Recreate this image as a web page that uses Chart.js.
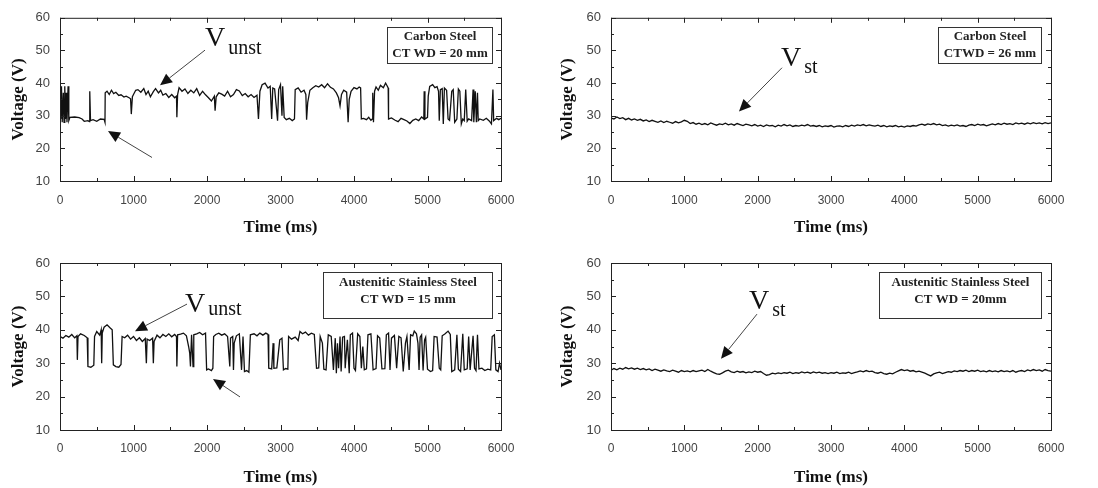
<!DOCTYPE html>
<html>
<head>
<meta charset="utf-8">
<title>Arc voltage traces</title>
<script src="https://cdn.jsdelivr.net/npm/chart.js@4/dist/chart.umd.min.js"></script>
<style>
  html, body { margin: 0; padding: 0; background: #fff; }
  #wrap  { position: relative; width: 1098px; height: 488px; }
  .panel { position: absolute; width: 549px; height: 244px; }
</style>
</head>
<body>
<div id="wrap">
  <div class="panel" style="left:0;top:0"><canvas id="c-tl" width="549" height="244"></canvas></div>
  <div class="panel" style="left:549px;top:0"><canvas id="c-tr" width="549" height="244"></canvas></div>
  <div class="panel" style="left:0;top:244px"><canvas id="c-bl" width="549" height="244"></canvas></div>
  <div class="panel" style="left:549px;top:244px"><canvas id="c-br" width="549" height="244"></canvas></div>
</div>
<script>
/* ── Data ─────────────────────────────────────────────────────────────── */
const xTicks = [0, 1000, 2000, 3000, 4000, 5000, 6000];
const yTicks = [10, 20, 30, 40, 50, 60];

// Carbon steel, CTWD 20 mm  [time ms, voltage V]
const carbon20 = [
  [0,38],[10,29],[20,39],[30,28],[45,37],[55,28],[65,39],[75,29],[85,37],[95,28],
  [110,39],[120,28.5],[135,29.5],[200,29.6],[260,29.4],[300,29],[330,28.3],[380,28.5],
  [400,28.2],[405,37.5],[415,28.5],[450,28.8],[500,28.3],[550,29],[600,28.9],[612,28],
  [615,37],[640,37.5],[670,36.5],[700,37.8],[730,36.8],[760,37.2],[800,36.2],[830,36.4],
  [870,35.7],[900,36],[940,35.5],[960,35.2],[970,30.5],[985,35.8],[1000,36.5],[1030,37.8],
  [1060,38],[1100,37.2],[1140,38.3],[1170,36.5],[1200,37.5],[1230,35.8],[1270,37.4],
  [1300,38.3],[1340,37],[1370,37.8],[1400,36.3],[1440,36.8],[1480,35.6],[1520,36.5],
  [1560,35.5],[1585,36],[1590,29.5],[1600,36.5],[1620,38.6],[1660,37.5],[1700,38.2],
  [1740,36.8],[1780,37.8],[1820,37],[1860,38.3],[1900,36.2],[1940,37.5],[1980,36.4],
  [2020,35.5],[2060,34.5],[2100,36],[2110,31.5],[2125,35.8],[2160,37],[2200,36.6],
  [2240,36],[2280,37.5],[2320,35.8],[2360,36.5],[2400,38],[2440,37.6],[2480,36.2],
  [2520,36.8],[2560,35.8],[2600,36.5],[2640,35.6],[2680,36.3],[2700,29],[2720,37.5],
  [2750,39.5],[2790,40],[2830,38.5],[2860,39],[2880,29],[2895,38.5],[2920,38.2],
  [2960,28.5],[2975,38],[3000,39.5],[3020,30],[3030,39],[3050,29.5],[3080,28.8],
  [3120,29.2],[3160,28.5],[3190,29],[3200,38],[3240,38.5],[3280,37.2],[3320,37.8],
  [3345,36.5],[3355,28.8],[3370,34],[3400,37.8],[3440,38.6],[3480,39.2],[3520,38.8],
  [3560,39.5],[3600,38.6],[3640,39.8],[3680,38.7],[3720,38.2],[3760,37],[3790,35.5],
  [3810,33],[3830,36.5],[3860,37.8],[3900,37.2],[3920,28],[3935,35],[3960,37.5],
  [4000,38.6],[4040,38.2],[4070,38.8],[4090,38.5],[4100,29],[4130,29.2],[4170,28.8],
  [4200,29.5],[4230,28.6],[4250,29],[4255,37],[4265,28],[4280,37.5],[4300,38.8],
  [4330,37.8],[4360,39.3],[4400,38.6],[4430,40],[4450,39.2],[4465,38.5],[4470,29],
  [4510,29.3],[4560,28.6],[4600,28.2],[4640,29.2],[4680,28.8],[4720,28.4],[4760,27.6],
  [4800,28.6],[4840,29],[4880,28.5],[4920,29.6],[4950,29],[4955,37.5],[4965,29],
  [5000,29.5],[5010,36],[5030,39],[5070,39.5],[5100,38.6],[5130,38.9],[5150,37.5],
  [5160,28.5],[5175,38],[5200,38.3],[5215,27.5],[5230,38.5],[5260,37.8],[5280,29],
  [5300,28.6],[5330,37.5],[5350,38],[5370,28],[5400,29],[5420,38.2],[5440,37.5],
  [5460,27.5],[5480,29],[5500,28.5],[5520,38],[5540,28.3],[5560,29],[5600,28.5],
  [5620,38],[5630,28],[5650,37.5],[5665,28],[5680,37],[5690,28.5],[5710,29],[5760,28.6],
  [5800,29.2],[5840,28.4],[5870,27.5],[5890,38],[5900,28.5],[5940,29.2],[5970,28.8],[6000,29.2]
];

// Austenitic stainless steel, CTWD 15 mm  [time ms, voltage V]
const stainless15 = [
  [0,38],[40,37.5],[80,38.3],[120,37.8],[160,38.6],[200,37.6],[230,38.2],[236,31],
  [245,38],[280,38.8],[330,38.3],[370,37.6],[380,29],[420,28.8],[460,29.4],[470,38],
  [500,39.5],[540,38.4],[560,40],[567,30],[575,39],[600,40.8],[640,41.5],[680,40.6],
  [710,40],[726,29.5],[760,29],[800,28.8],[830,29.6],[845,38],[880,37.6],[920,38.4],
  [960,37.2],[1000,38],[1040,36.8],[1080,37.6],[1120,36.5],[1160,37.4],[1175,30],
  [1185,37.2],[1220,36.8],[1260,37.5],[1270,30],[1280,36.5],[1320,38.4],[1360,37.6],
  [1400,38.6],[1440,38],[1480,38.8],[1520,37.9],[1560,38.6],[1585,38],[1590,29],
  [1600,38.5],[1640,38.7],[1680,39],[1720,38.2],[1750,35],[1765,33],[1775,29],[1790,38.5],
  [1810,29],[1820,38.5],[1860,38.8],[1900,39.2],[1940,38.5],[1980,39],[1995,28],
  [2020,28.3],[2060,27.8],[2080,28.5],[2090,38],[2120,38.6],[2160,39],[2200,38.4],
  [2240,38.8],[2280,38],[2310,29],[2320,37.5],[2350,38],[2360,28],[2370,36],[2400,38.2],
  [2440,38.8],[2470,28],[2490,38],[2510,27.5],[2540,27.8],[2570,27.3],[2590,38.5],
  [2640,38.8],[2680,38.2],[2720,39],[2760,38.4],[2800,39],[2830,38.6],[2840,28.5],
  [2880,28.3],[2900,36],[2910,28.5],[2950,28.6],[2990,37],[3020,37.5],[3040,28],
  [3070,28.4],[3100,28.2],[3110,38],[3150,37.2],[3200,37.8],[3240,36.8],[3265,39.5],
  [3300,38.8],[3340,39.3],[3380,38.4],[3420,39],[3460,38.6],[3490,28.5],[3520,28.6],
  [3540,38],[3570,36],[3590,28.2],[3620,28],[3650,38.5],[3690,38],[3720,28],[3745,37.5],
  [3760,27],[3775,36],[3790,28.5],[3810,38],[3825,27.5],[3845,37.8],[3870,38],[3880,28.5],
  [3910,37],[3935,27],[3950,38.5],[3980,39],[4000,28.5],[4020,27.8],[4050,38.8],[4080,38],
  [4100,28.5],[4120,35],[4140,28],[4170,28.3],[4190,38.5],[4230,38.8],[4260,28],
  [4300,28.4],[4320,38.2],[4350,37.5],[4380,28.3],[4420,28.4],[4440,38.5],[4470,39],
  [4490,28],[4510,37.5],[4550,38.3],[4580,28.5],[4610,38],[4640,37.6],[4670,27.5],
  [4700,36],[4720,38],[4750,28],[4770,38.5],[4800,38.2],[4820,39.6],[4850,38.8],
  [4870,36],[4885,28],[4900,37.8],[4920,38.5],[4940,27.8],[4960,37],[4975,37.8],
  [5000,28.2],[5040,27.5],[5070,27.8],[5090,38],[5130,37.8],[5160,28.5],[5180,28],
  [5200,38.2],[5240,38.8],[5280,39.6],[5310,38.6],[5330,27.5],[5370,28],[5400,38.5],
  [5420,28.2],[5450,27.5],[5480,38.8],[5500,28],[5540,28.3],[5560,38],[5580,28],
  [5620,38.2],[5640,28.5],[5660,27.8],[5680,38.5],[5700,28.3],[5740,28.5],[5780,27.8],
  [5820,28.2],[5860,28],[5880,38],[5910,38.5],[5930,28],[5960,27.5],[5980,30],[6000,28]
];

// stable traces share one time base (ms)
const stableTime = [
  0,40,80,120,160,200,240,280,320,360,
  400,440,480,520,560,600,640,680,720,760,
  800,840,880,920,960,1000,1040,1080,1120,1160,
  1200,1240,1280,1320,1360,1400,1440,1480,1520,1560,
  1600,1640,1680,1720,1760,1800,1840,1880,1920,1960,
  2000,2040,2080,2120,2160,2200,2240,2280,2320,2360,
  2400,2440,2480,2520,2560,2600,2640,2680,2720,2760,
  2800,2840,2880,2920,2960,3000,3040,3080,3120,3160,
  3200,3240,3280,3320,3360,3400,3440,3480,3520,3560,
  3600,3640,3680,3720,3760,3800,3840,3880,3920,3960,
  4000,4040,4080,4120,4160,4200,4240,4280,4320,4360,
  4400,4440,4480,4520,4560,4600,4640,4680,4720,4760,
  4800,4840,4880,4920,4960,5000,5040,5080,5120,5160,
  5200,5240,5280,5320,5360,5400,5440,5480,5520,5560,
  5600,5640,5680,5720,5760,5800,5840,5880,5920,5960,
  6000
];
// Carbon steel, CTWD 26 mm (V)
const carbon26 = [
  29.3,29.0,29.6,29.1,29.4,28.8,29.2,28.7,29.0,28.6,
  28.9,28.4,28.7,28.2,28.6,28.3,28.0,28.4,27.9,28.3,
  28.0,27.7,28.2,27.8,28.1,28.6,28.3,27.6,27.9,27.4,
  27.7,27.3,27.6,27.2,27.8,27.4,27.1,27.5,27.3,27.7,
  27.2,27.5,27.1,27.6,27.3,27.0,27.4,27.2,26.9,27.3,
  26.8,27.1,26.7,27.2,26.9,27.0,26.6,27.1,26.8,27.3,
  26.9,27.2,26.7,27.0,26.8,27.1,26.9,27.3,26.8,27.0,
  26.7,27.0,26.6,26.9,26.7,27.0,26.5,26.8,26.9,26.6,
  27.0,26.7,27.1,26.8,27.2,27.0,27.3,26.9,27.2,27.0,
  26.8,27.1,26.7,27.0,26.6,26.9,26.7,27.0,26.6,26.8,
  26.5,26.9,26.7,27.0,26.8,27.2,27.4,27.1,27.5,27.3,
  27.6,27.2,27.4,27.0,27.2,26.8,27.1,26.9,27.2,26.8,
  27.0,26.7,27.1,27.3,27.0,27.4,27.1,27.3,26.9,27.2,
  27.5,27.2,27.6,27.3,27.7,27.4,27.6,27.3,27.8,27.5,
  27.7,27.4,27.8,27.5,27.9,27.6,27.8,27.5,27.9,27.6,
  27.8
];
// Austenitic stainless steel, CTWD 20 mm (V)
const stainless20 = [
  27.9,28.4,28.0,28.5,28.2,28.7,28.3,28.6,28.2,28.5,
  28.1,28.4,28.0,28.3,27.8,28.2,27.9,27.6,28.0,27.7,
  27.5,27.9,27.6,27.3,27.8,27.5,27.7,27.4,27.8,27.5,
  27.7,27.9,27.5,28.1,27.6,27.2,26.8,26.7,27.1,27.6,
  27.9,27.4,27.2,27.6,27.3,27.5,27.1,27.4,27.2,27.6,
  27.3,27.5,26.9,26.4,26.6,27.0,26.8,27.1,26.9,27.2,
  27.0,27.3,26.9,27.2,27.0,27.4,27.1,27.3,27.0,27.4,
  27.1,27.3,27.0,27.2,26.9,27.2,27.0,27.3,26.9,27.1,
  27.0,27.3,26.9,27.2,27.4,27.7,27.4,27.8,27.5,27.6,
  27.2,27.0,27.3,26.9,26.7,27.0,26.8,27.3,27.7,28.1,
  27.8,28.0,27.6,27.8,27.4,27.6,27.3,27.0,26.6,26.2,
  26.8,27.1,27.3,26.9,27.2,27.5,27.3,27.7,27.5,27.8,
  27.6,27.9,27.5,27.8,27.6,27.9,27.5,27.7,27.4,27.8,
  27.5,27.7,27.4,27.8,27.5,27.7,27.4,27.8,27.3,27.6,
  27.8,27.5,28.0,27.7,28.1,27.8,28.0,27.6,28.1,27.8,
  27.6
];

/* ── Plugins ──────────────────────────────────────────────────────────── */
// Boxed frame with inward ticks on all four sides
const framePlugin = {
  id: 'frame',
  afterDatasetsDraw(chart) {
    const { ctx, chartArea: a, scales: { x, y } } = chart;
    ctx.save();
    ctx.strokeStyle = '#222';
    ctx.lineWidth = 1;
    ctx.strokeRect(a.left + 0.5, a.top + 0.5, a.right - a.left, a.bottom - a.top);
    ctx.beginPath();
    for (let t = 0; t <= 6000; t += 500) {
      const px = Math.round(x.getPixelForValue(t)) + 0.5;
      const len = t % 1000 === 0 ? 5 : 3;
      ctx.moveTo(px, a.bottom); ctx.lineTo(px, a.bottom - len);
      ctx.moveTo(px, a.top);    ctx.lineTo(px, a.top + len);
    }
    for (let v = 10; v <= 60; v += 5) {
      const py = Math.round(y.getPixelForValue(v)) + 0.5;
      const len = v % 10 === 0 ? 5 : 3;
      ctx.moveTo(a.left, py);  ctx.lineTo(a.left + len, py);
      ctx.moveTo(a.right, py); ctx.lineTo(a.right - len, py);
    }
    ctx.stroke();
    ctx.restore();
  }
};

function drawArrow(ctx, x0, y0, x1, y1) {
  const ang = Math.atan2(y1 - y0, x1 - x0);
  const L = 12, W = 5.5;
  const bx = x1 - L * Math.cos(ang), by = y1 - L * Math.sin(ang);
  ctx.beginPath(); ctx.moveTo(x0, y0); ctx.lineTo(bx, by); ctx.stroke();
  ctx.beginPath();
  ctx.moveTo(x1, y1);
  ctx.lineTo(bx + W * Math.sin(ang), by - W * Math.cos(ang));
  ctx.lineTo(bx - W * Math.sin(ang), by + W * Math.cos(ang));
  ctx.closePath(); ctx.fill();
}

// Material box, V label and arrows (placed in data units)
const notesPlugin = {
  id: 'notes',
  afterDraw(chart, args, o) {
    const { ctx, scales: { x, y } } = chart;
    const X = t => x.getPixelForValue(t), Y = v => y.getPixelForValue(v);
    ctx.save();

    // box
    const bx0 = Math.round(X(o.box[0])) + 0.5, bx1 = Math.round(X(o.box[1])) + 0.5;
    const by0 = Math.round(Y(o.box[2])) + 0.5, by1 = Math.round(Y(o.box[3])) + 0.5;
    ctx.fillStyle = '#fff';
    ctx.fillRect(bx0, by0, bx1 - bx0, by1 - by0);
    ctx.strokeStyle = '#333';
    ctx.lineWidth = 1;
    ctx.strokeRect(bx0, by0, bx1 - bx0, by1 - by0);
    ctx.fillStyle = '#222';
    ctx.font = 'bold 13px "Liberation Serif"';
    ctx.textAlign = 'center';
    ctx.textBaseline = 'middle';
    const cx = (bx0 + bx1) / 2;
    ctx.fillText(o.lines[0], cx, by0 + o.lineY[0]);
    ctx.fillText(o.lines[1], cx, by0 + o.lineY[1]);

    // V label
    ctx.textAlign = 'left';
    ctx.textBaseline = 'alphabetic';
    ctx.fillStyle = '#111';
    ctx.font = '28px "Liberation Serif"';
    const lx = X(o.label[0]), ly = Y(o.label[1]);
    ctx.fillText('V', lx, ly);
    const w = ctx.measureText('V').width;
    ctx.font = '20px "Liberation Serif"';
    ctx.fillText(o.sub, lx + w + 3, ly + o.subDy);

    // arrows
    ctx.strokeStyle = '#444';
    ctx.fillStyle = '#111';
    ctx.lineWidth = 1;
    o.arrows.forEach(a => drawArrow(ctx, X(a[0]), Y(a[1]), X(a[2]), Y(a[3])));
    ctx.restore();
  }
};

/* ── Chart factory ────────────────────────────────────────────────────── */
const tickFont  = { family: '"Liberation Sans", Arial, sans-serif', size: 12 };
const titleFont = { family: '"Liberation Serif", "Times New Roman", serif', size: 17, weight: 'bold', lineHeight: 1 };

function makePanel(id, points, layout, notes) {
  new Chart(document.getElementById(id), {
    type: 'line',
    data: {
      datasets: [{
        data: points.map(p => ({ x: p[0], y: p[1] })),
        borderColor: '#111',
        borderWidth: 1.3,
        pointRadius: 0,
        tension: 0,
        fill: false,
      }],
    },
    options: {
      responsive: false,
      animation: false,
      events: [],
      layout: { padding: { left: 0, top: layout.top, right: layout.right, bottom: 0 } },
      plugins: { legend: { display: false }, tooltip: { enabled: false }, notes },
      scales: {
        x: {
          type: 'linear', min: 0, max: 6000,
          grid: { display: false, drawTicks: false },
          border: { display: false },
          afterBuildTicks: s => { s.ticks = xTicks.map(v => ({ value: v })); },
          ticks: { color: '#444', font: tickFont, padding: layout.xPad, maxRotation: 0,
                   autoSkip: false, callback: v => String(v) },
          title: { display: true, text: 'Time (ms)', color: '#111', font: titleFont,
                   padding: { top: 0, bottom: layout.titleBottom } },
          afterFit: s => { s.height = 244 - layout.bottom; },
        },
        y: {
          type: 'linear', min: 10, max: 60,
          grid: { display: false, drawTicks: false },
          border: { display: false },
          afterBuildTicks: s => { s.ticks = yTicks.map(v => ({ value: v })); },
          ticks: { color: '#444', font: { ...tickFont, size: 13 }, padding: 10,
                   callback: v => String(v) },
          title: { display: true, text: 'Voltage (V)', color: '#111', font: titleFont,
                   padding: { top: 10, bottom: 0 } },
          afterFit: s => { s.width = layout.left; },
        },
      },
    },
    plugins: [framePlugin, notesPlugin],
  });
}

const stablePts = vals => stableTime.map((t, i) => [t, vals[i]]);

makePanel('c-tl', carbon20,
  { top: 14, bottom: 181, left: 60, right: 48, xPad: 12, titleBottom: 8 },
  { box: [4449, 5878, 57.3, 46.2], lines: ['Carbon Steel', 'CT WD = 20 mm'], lineY: [9, 26],
    label: [1973, 51.3], sub: 'unst', subDy: 8,
    arrows: [[1973, 50.1, 1361, 39.3], [1252, 17.2, 653, 25.3]] });

makePanel('c-tr', stablePts(carbon26),
  { top: 14, bottom: 181, left: 62, right: 47, xPad: 12, titleBottom: 8 },
  { box: [4459, 5864, 57.3, 46.2], lines: ['Carbon Steel', 'CTWD = 26 mm'], lineY: [9, 26],
    label: [2318, 45.3], sub: 'st', subDy: 7,
    arrows: [[2332, 44.7, 1745, 31.3]] });

makePanel('c-bl', stainless15,
  { top: 19, bottom: 186, left: 60, right: 48, xPad: 11, titleBottom: 2 },
  { box: [3578, 5878, 57.3, 43.5], lines: ['Austenitic Stainless Steel', 'CT WD = 15 mm'], lineY: [10, 27],
    label: [1701, 45.3], sub: 'unst', subDy: 3,
    arrows: [[1728, 47.7, 1020, 39.6], [2449, 19.9, 2082, 25.3]] });

makePanel('c-br', stablePts(stainless20),
  { top: 19, bottom: 186, left: 62, right: 47, xPad: 11, titleBottom: 2 },
  { box: [3655, 5864, 57.3, 43.5], lines: ['Austenitic Stainless Steel', 'CT WD = 20mm'], lineY: [10, 27],
    label: [1882, 46.2], sub: 'st', subDy: 7,
    arrows: [[1991, 44.7, 1500, 31.3]] });
</script>
</body>
</html>
